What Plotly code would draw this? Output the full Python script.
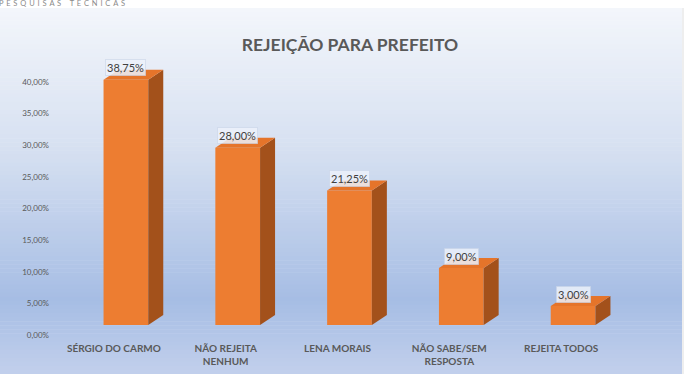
import plotly.graph_objects as go

categories = ["SÉRGIO DO CARMO", "NÃO REJEITA<br>NENHUM", "LENA MORAIS", "NÃO SABE/SEM<br>RESPOSTA", "REJEITA TODOS"]
values = [38.75, 28.00, 21.25, 9.00, 3.00]
tick_vals = [0, 5, 10, 15, 20, 25, 30, 35, 40]
tick_text = [f"{v:.2f}".replace(".", ",") + "%" for v in tick_vals]
title_text = "REJEIÇÃO PARA PREFEITO"
header_text = "PESQUISAS TÉCNICAS"

W, H = 696, 374
L, R, T, B = 70, 67, 60, 49
pw, ph = W - L - R, H - T - B
ymax = 41.86
bar_w = 0.4
dx = 15 / (pw / 5)          # depth offset in x units
dy = 10 / (ph / ymax)       # depth offset in y units

front = "#ed7d31"
side = "#a3511b"
topc = "#e5742a"

fig = go.Figure()
xs = list(range(len(values)))

# side and top faces (3D effect)
for i, v in enumerate(values):
    x0, x1 = i - bar_w / 2, i + bar_w / 2
    fig.add_trace(go.Scatter(
        x=[x1, x1 + dx, x1 + dx, x1, x1], y=[0, dy, v + dy, v, 0],
        fill="toself", fillcolor=side, mode="lines", line=dict(width=0),
        hoverinfo="skip", showlegend=False))
    fig.add_trace(go.Scatter(
        x=[x0, x1, x1 + dx, x0 + dx, x0], y=[v, v, v + dy, v + dy, v],
        fill="toself", fillcolor=topc, mode="lines", line=dict(width=0),
        hoverinfo="skip", showlegend=False))

fig.add_trace(go.Bar(x=xs, y=values, width=bar_w, marker=dict(color=front, line=dict(width=0)),
                     hoverinfo="skip", showlegend=False))

for i, v in enumerate(values):
    fig.add_annotation(x=i, y=v, yshift=12, text=f"{v:.2f}".replace(".", ",") + "%",
                       showarrow=False, bgcolor="rgba(236,241,250,0.85)",
                       bordercolor="rgba(200,212,232,0.6)", borderwidth=1,
                       font=dict(family="Lato", size=11, color="#404040"),
                       borderpad=1)

# background gradient stripes (panel)
def lerp(c1, c2, t):
    return tuple(round(a + (b - a) * t) for a, b in zip(c1, c2))

stops = [(8, (243, 246, 251)), (150, (214, 224, 241)), (300, (166, 189, 228)), (374, (194, 208, 236))]
shapes = []
def px_to_paper_x(px):
    return (px - L) / pw
def px_to_paper_y(py):
    return (H - B - py) / ph

n = 90
y_top, y_bot = 8, 374
for k in range(n):
    ya = y_top + (y_bot - y_top) * k / n
    yb = y_top + (y_bot - y_top) * (k + 1) / n
    ym = (ya + yb) / 2
    for j in range(len(stops) - 1):
        if stops[j][0] <= ym <= stops[j + 1][0]:
            t = (ym - stops[j][0]) / (stops[j + 1][0] - stops[j][0])
            c = lerp(stops[j][1], stops[j + 1][1], t)
            break
    shapes.append(dict(type="rect", xref="paper", yref="paper", layer="below",
                       x0=px_to_paper_x(0), x1=px_to_paper_x(682),
                       y0=px_to_paper_y(yb + 0.5), y1=px_to_paper_y(ya),
                       fillcolor=f"rgb{c}", line=dict(width=0)))
shapes.append(dict(type="line", xref="paper", yref="paper", layer="below",
                   x0=px_to_paper_x(683), x1=px_to_paper_x(683),
                   y0=px_to_paper_y(374), y1=px_to_paper_y(8),
                   line=dict(color="#dddddd", width=1)))

fig.update_layout(
    width=W, height=H, margin=dict(l=L, r=R, t=T, b=B, autoexpand=False),
    paper_bgcolor="white", plot_bgcolor="rgba(0,0,0,0)",
    shapes=shapes,
    title=dict(text=f"<b>{title_text}</b>", x=350 / W, xanchor="center",
               y=1 - 45 / H, yanchor="middle",
               font=dict(family="Lato", size=17.5, color="#595959")),
    xaxis=dict(range=[-0.5, 4.5], tickvals=xs, ticktext=[f"<b>{c}</b>" for c in categories],
               showgrid=False, zeroline=False, showline=False, ticks="", automargin=False,
               ticklabelshift=-12, ticklabelstandoff=16,
               tickfont=dict(family="Lato", size=10, color="#595959"), fixedrange=True),
    yaxis=dict(range=[0, ymax], tickvals=tick_vals, ticktext=tick_text, automargin=False,
               showgrid=False, zeroline=False, showline=False, ticks="",
               ticklabelshift=10, ticklabelstandoff=20,
               tickfont=dict(family="Lato", size=8, color="#595959"), fixedrange=True),
    bargap=0.6,
)
gap = "\u00a0\u2009"
spaced = gap.join(header_text).replace(gap + " " + gap, gap * 3)
fig.add_annotation(xref="paper", yref="paper", x=px_to_paper_x(-3), y=px_to_paper_y(3),
                   xanchor="left", yanchor="middle", text=spaced, showarrow=False,
                   font=dict(family="Lato", size=7.5, color="#8a8a8a"))

fig.write_html("out.html")
